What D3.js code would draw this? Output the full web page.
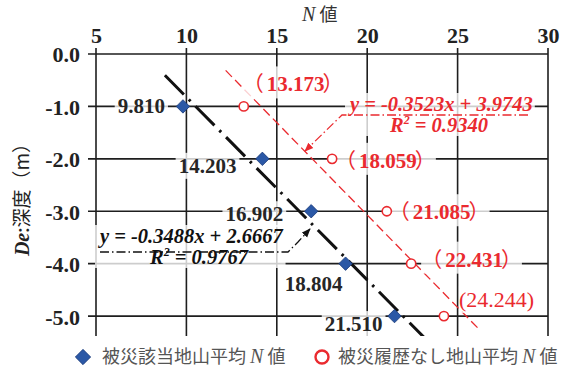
<!DOCTYPE html>
<html>
<head>
<meta charset="utf-8">
<title>N値と深度</title>
<script src="https://cdn.jsdelivr.net/npm/d3@7"></script>
<style>
body { margin: 0; background: #fff; }
.num { font-family: "Liberation Serif", "Times New Roman", serif; font-weight: bold; }
.jp  { font-family: "Noto Sans CJK JP", sans-serif; }
</style>
</head>
<body>
<svg width="564" height="374"></svg>
<script>
// 深度 (m)
var depth = [-1, -2, -3, -4, -5];
// 被災該当地山平均 N値
var nHit = [9.810, 14.203, 16.902, 18.804, 21.510];
// 被災履歴なし地山平均 N値
var nSafe = [13.173, 18.059, 21.085, 22.431, 24.244];

var xTicks = [5, 10, 15, 20, 25, 30];
var yTicks = [0, -1, -2, -3, -4, -5];

// 近似直線 (黒, 赤)
var fitSlope = [-0.3488, -0.3523];
var fitIntercept = [2.6667, 3.9743];
var fitR2 = ["0.9767", "0.9340"];
var fitFrom = [8.81, 12.17];
var fitTo = [23.2, 26.1];

var legendText = ["被災該当地山平均", "被災履歴なし地山平均"];

// ラベル位置 (点からのずれ px)
var hitOff = [[-18, 7], [-26, 14], [-28, 10], [-3, 27], [-12, 15]];
var safeOff = [[-1, -15], [3, 9], [2, 8], [10, 3], [15, -9]];

var red = "#ea2a2f", blue = "#2b58a6", grid = "#1e1e1e";

var svg = d3.select("svg");
var x = d3.scaleLinear().domain([5, 30]).range([96, 548]);
var y = d3.scaleLinear().domain([0, -5.38]).range([54, 336]);

svg.append("defs").append("clipPath").attr("id", "plot")
  .append("rect").attr("x", x(5)).attr("y", y(0)).attr("width", x(30) - x(5)).attr("height", y(-5.38) - y(0));

// 格子線
svg.append("g").selectAll("line").data(xTicks).enter().append("line")
  .attr("x1", d => x(d)).attr("x2", d => x(d))
  .attr("y1", y(0) - 6).attr("y2", y(-5.38))
  .attr("stroke", grid).attr("stroke-width", 1.6);
svg.append("g").selectAll("line").data(yTicks).enter().append("line")
  .attr("x1", x(5) - 8).attr("x2", x(30))
  .attr("y1", d => y(d)).attr("y2", d => y(d))
  .attr("stroke", grid).attr("stroke-width", 1.6);

// 軸ラベル
var gx = svg.append("g").attr("transform", "translate(0," + y(0) + ")")
  .call(d3.axisTop(x).tickValues(xTicks).tickSize(0).tickPadding(11).tickFormat(d3.format("d")));
var gy = svg.append("g").attr("transform", "translate(" + x(5) + ",0)")
  .call(d3.axisLeft(y).tickValues(yTicks).tickSize(0).tickPadding(16).tickFormat(d => d.toFixed(1)));
[gx, gy].forEach(function(g) {
  g.select(".domain").remove();
  g.selectAll("text").attr("class", "num").attr("font-size", 22).attr("fill", "#222");
});
gy.selectAll("text").attr("dy", "0.36em");

// 軸タイトル
var tx = svg.append("text").attr("x", 302).attr("y", 21).attr("fill", "#333").attr("font-size", 20);
tx.append("tspan").attr("font-family", "Liberation Serif").attr("font-style", "italic").text("N");
tx.append("tspan").attr("class", "jp").attr("font-size", 18).text(" 値");

var ty = svg.append("text").attr("transform", "translate(29,195) rotate(-90)")
  .attr("text-anchor", "middle").attr("fill", "#222").attr("font-size", 20);
ty.append("tspan").attr("class", "num").attr("font-style", "italic").text("De");
ty.append("tspan").attr("class", "jp").attr("font-size", 19).text(":深度（m）");

// 近似直線
var plot = svg.append("g").attr("clip-path", "url(#plot)");
var fitColor = ["#111", red];
fitSlope.forEach(function(a, i) {
  var b = fitIntercept[i];
  plot.append("line")
    .attr("x1", x(fitFrom[i])).attr("y1", y(a * fitFrom[i] + b))
    .attr("x2", x(fitTo[i])).attr("y2", y(a * fitTo[i] + b))
    .attr("stroke", fitColor[i])
    .attr("stroke-width", i == 0 ? 3 : 1.3)
    .attr("stroke-dasharray", i == 0 ? "27,7,2.5,7" : "9,4.5");
});

// 矢印
var defs = svg.select("defs");
fitColor.forEach(function(c, i) {
  defs.append("marker").attr("id", "arr" + i)
    .attr("viewBox", "0 -5 10 10").attr("refX", 9).attr("refY", 0)
    .attr("markerWidth", 9).attr("markerHeight", 9).attr("markerUnits", "userSpaceOnUse")
    .attr("orient", "auto")
    .append("path").attr("d", "M0,-4L10,0L0,4Z").attr("fill", c);
});

function labelBox(t, pad, op) {
  var bb = t.node().getBBox();
  d3.select(t.node().parentNode).insert("rect", ":first-child")
    .attr("x", bb.x - pad).attr("y", bb.y - 1).attr("width", bb.width + pad * 2).attr("height", bb.height + 2)
    .attr("fill", "#fff").attr("opacity", op);
}

// 数値ラベル
var fmt = d3.format(".3f");
nHit.forEach(function(v, i) {
  var g = svg.append("g");
  var t = g.append("text").attr("class", "num").attr("font-size", 21).attr("fill", "#262626")
    .attr("text-anchor", "end")
    .attr("x", x(v) + hitOff[i][0]).attr("y", y(depth[i]) + hitOff[i][1])
    .text(fmt(v));
  labelBox(t, 3, 0.78);
});
nSafe.forEach(function(v, i) {
  var g = svg.append("g");
  var last = i == nSafe.length - 1;
  var t = g.append("text").attr("font-size", last ? 22 : 21).attr("fill", red)
    .attr("x", x(v) + safeOff[i][0]).attr("y", y(depth[i]) + safeOff[i][1]);
  if (last) {
    t.attr("font-family", "Liberation Serif").text("(" + fmt(v) + ")");
  } else {
    t.append("tspan").attr("class", "jp").text("（");
    t.append("tspan").attr("class", "num").attr("dx", 3).text(fmt(v));
    t.append("tspan").attr("class", "jp").attr("dx", -2).text("）");
  }
  labelBox(t, 0, 0.78);
});

// 近似式
var eqPos = [[100, 243, 150, 264], [350, 111, 390, 132]];
var leader = [
  [[100, 252], [288, 252], [298, 242], [310, 229]],
  [[528, 115], [342, 115], [305, 151]]
];
fitSlope.forEach(function(a, i) {
  var g = svg.append("g");
  var c = fitColor[i];
  var t1 = g.append("text").attr("class", "num").attr("font-style", "italic").attr("font-size", 20.5)
    .attr("fill", c).attr("x", eqPos[i][0]).attr("y", eqPos[i][1])
    .text("y = " + a.toFixed(4) + "x + " + fitIntercept[i].toFixed(4));
  var t2 = g.append("text").attr("class", "num").attr("font-style", "italic").attr("font-size", 20.5)
    .attr("fill", c).attr("x", eqPos[i][2]).attr("y", eqPos[i][3]);
  t2.append("tspan").text("R");
  t2.append("tspan").attr("font-size", 12).attr("dy", -8).text("2");
  t2.append("tspan").attr("dy", 8).text(" = " + fitR2[i]);
  var bb1 = t1.node().getBBox(), bb2 = t2.node().getBBox();
  g.insert("rect", ":first-child")
    .attr("x", bb1.x - 2).attr("y", bb1.y).attr("width", bb1.width + 4)
    .attr("height", bb2.y + bb2.height - bb1.y)
    .attr("fill", "#fff").attr("opacity", 0.78);
  g.append("path")
    .attr("d", d3.line()(leader[i]))
    .attr("fill", "none").attr("stroke", c).attr("stroke-width", 1.3)
    .attr("stroke-dasharray", "9,3,1.5,3")
    .attr("marker-end", "url(#arr" + i + ")");
});

// 点
var diamond = d3.symbol().type(d3.symbolDiamond2).size(115);
svg.append("g").selectAll("path").data(nHit).enter().append("path")
  .attr("d", diamond)
  .attr("transform", (d, i) => "translate(" + x(d) + "," + y(depth[i]) + ")")
  .attr("fill", blue).attr("stroke", "#1b3a78").attr("stroke-width", 0.8);
svg.append("g").selectAll("circle").data(nSafe).enter().append("circle")
  .attr("cx", d => x(d)).attr("cy", (d, i) => y(depth[i])).attr("r", 4.6)
  .attr("fill", "#fff").attr("stroke", red).attr("stroke-width", 1.6);

// 凡例
var lg = svg.append("g");
lg.append("path").attr("d", d3.symbol().type(d3.symbolDiamond2).size(150)).attr("transform", "translate(83,357)")
  .attr("fill", blue).attr("stroke", "#1b3a78").attr("stroke-width", 0.8);
lg.append("circle").attr("cx", 322).attr("cy", 357).attr("r", 6.5)
  .attr("fill", "#fff").attr("stroke", red).attr("stroke-width", 2.4);
[102, 338].forEach(function(lx, i) {
  var t = lg.append("text").attr("x", lx).attr("y", 363).attr("fill", "#555").attr("font-size", 18);
  t.append("tspan").attr("class", "jp").text(legendText[i] + " ");
  t.append("tspan").attr("font-family", "Liberation Serif").attr("font-style", "italic").attr("font-size", 20).text("N");
  t.append("tspan").attr("class", "jp").text(" 値");
});
</script>
</body>
</html>
